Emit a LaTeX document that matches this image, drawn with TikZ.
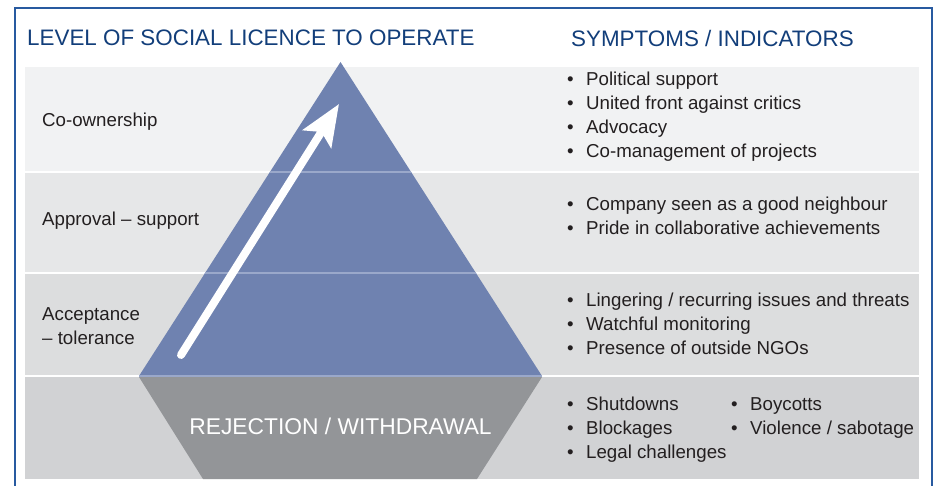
\documentclass[tikz,border=0pt]{standalone}
\usepackage{fontspec}
\setmainfont{Liberation Sans}
\usepackage{xcolor}
\usetikzlibrary{arrows.meta}

\definecolor{headblue}{RGB}{18,62,122}
\definecolor{textgrey}{RGB}{35,31,32}
\definecolor{frameblue}{RGB}{40,90,160}
\definecolor{bandA}{RGB}{241,242,243}
\definecolor{bandB}{RGB}{230,231,232}
\definecolor{bandC}{RGB}{220,221,222}
\definecolor{bandD}{RGB}{209,210,212}
\definecolor{pyrblue}{RGB}{111,130,176}
\definecolor{pyrline}{RGB}{154,168,202}
\definecolor{rejgrey}{RGB}{147,149,152}

\newcommand{\bul}[1]{\makebox[19pt][l]{\textbullet}#1}

\begin{document}
\begin{tikzpicture}[x=1pt, y=-1pt,
    head/.style={anchor=west, inner sep=0pt, text=headblue, font=\fontsize{22.4}{26}\selectfont},
    level/.style={anchor=west, inner sep=0pt, text=textgrey, align=left, font=\fontsize{18.7}{24}\selectfont}]
    \clip (0, 0) rectangle (934, 486);
    \draw [frameblue, line width=1.2pt] (15, 8) rectangle (932, 530);

    % bands
    \fill [bandA] (25, 67) rectangle (919, 172);
    \fill [bandB] (25, 172) rectangle (919, 273);
    \fill [bandC] (25, 273) rectangle (919, 376);
    \fill [bandD] (25, 376) rectangle (919, 479);
    \draw [white, line width=2pt] (25, 172) -- (919, 172) (25, 273) -- (919, 273) (25, 376) -- (919, 376);

    % pyramid and the base below it
    \coordinate (apex) at (340.5, 62);
    \coordinate (bl) at (139, 376);
    \coordinate (br) at (542, 376);
    \fill [pyrblue] (apex) -- (br) -- (bl) -- cycle;
    \begin{scope}
        \clip (apex) -- (br) -- (bl) -- cycle;
        \draw [pyrline, line width=2pt] (100, 172) -- (600, 172) (100, 273) -- (600, 273);
    \end{scope}
    \fill [rejgrey] (139, 377) -- (542, 377) -- (477, 479) -- (203, 479) -- cycle;
    \draw [pyrline, line width=2pt] (bl) -- (br);
    \path (340.5, 426) node [inner sep=0pt, text=white, font=\fontsize{22.8}{26}\selectfont] (reject) {REJECTION / WITHDRAWAL};

    \coordinate (tail) at (181, 355);
    \coordinate (tip) at (339, 104);
    \draw [white, line width=8pt, line cap=round, -{Stealth[length=41pt, width=33pt, inset=8pt]}] (tail) -- (tip);

    % headings
    \path (27, 38) node [head] (levelhead) {LEVEL OF SOCIAL LICENCE TO OPERATE};
    \path (571, 38) node [head] (symphead) {SYMPTOMS / INDICATORS};

    % levels
    \path (42, 122) node [level] (coown) {Co-ownership};
    \path (42, 221) node [level] (approval) {Approval – support};
    \path (42, 326) node [level] (accept) {Acceptance\\– tolerance};

    % symptoms
    \path (567, 117) node [level] (sympA) {\bul{Political support}\\\bul{United front against critics}\\\bul{Advocacy}\\\bul{Co-management of projects}};
    \path (567, 216) node [level] (sympB) {\bul{Company seen as a good neighbour}\\\bul{Pride in collaborative achievements}};
    \path (567, 324) node [level] (sympC) {\bul{Lingering / recurring issues and threats}\\\bul{Watchful monitoring}\\\bul{Presence of outside NGOs}};
    \path (567, 430) node [level] (sympD) {\bul{Shutdowns}\\\bul{Blockages}\\\bul{Legal challenges}};
    \path (731, 418) node [level] (sympE) {\bul{Boycotts}\\\bul{Violence / sabotage}};
\end{tikzpicture}
\end{document}
